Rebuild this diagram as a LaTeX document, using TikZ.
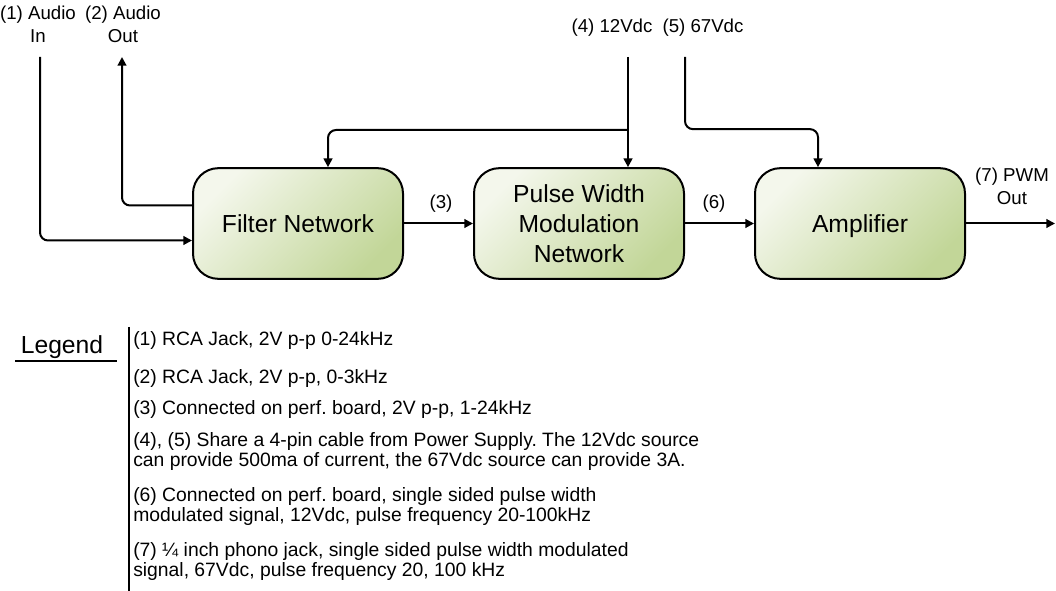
\documentclass[tikz,border=0pt]{standalone}
\usepackage{fontspec}
\setmainfont{Liberation Sans}
\usetikzlibrary{arrows.meta,calc}
\definecolor{boxlight}{RGB}{244,247,236}
\definecolor{boxdark}{RGB}{194,214,152}
\frenchspacing
\tikzset{
  blockbox/.style={draw=black, line width=1.5pt, rounded corners=19pt,
    minimum width=157.5pt, minimum height=83pt, align=center,
    top color=boxlight, bottom color=boxdark, shading angle=45,
    font=\fontsize{18.5}{22}\selectfont},
  conn/.style={line width=1.5pt, -{Triangle[length=6.5pt,width=6.5pt]}},
  wire/.style={line width=1.5pt},
  lbl/.style={align=center, inner sep=0pt, font=\fontsize{14}{17}\selectfont},
  leg/.style={anchor=west, align=left, inner sep=0pt, font=\fontsize{14.5}{15}\selectfont},
}
\begin{document}
\begin{tikzpicture}[x=0.75pt,y=-0.75pt]
\frenchspacing
\useasboundingbox (0,0) rectangle (1056,591);
% blocks
\node[blockbox] (filter) at (298,223.5) {Filter Network};
\node[blockbox, font=\fontsize{18.5}{22.5}\selectfont] (pwm) at (579,223.5) {Pulse Width\\Modulation\\Network};
\node[blockbox, text depth=0pt] (amp) at (860,223.5) {Amplifier};
% top labels
\node[lbl] (lin) at (38,24) {(1) Audio\\In};
\node[lbl] (lout) at (123,24) {(2) Audio\\Out};
\node[lbl] (l12) at (612,28) {(4) 12Vdc};
\node[lbl] (l67) at (703,28) {(5) 67Vdc};
\node[lbl] (l7) at (1012,186) {(7) PWM\\Out};
\node[lbl] (l3) at (441,204) {(3)};
\node[lbl] (l6) at (714,204) {(6)};
% free ends
\coordinate (ain) at (40,57);
\coordinate (aout) at (122,57);
\coordinate (v12) at (628,57);
\coordinate (v67) at (685,57);
\coordinate (j12) at (628,130);
\coordinate (pout) at (1055,223.5);
% connectors
\draw[conn, rounded corners=6pt] (ain) |- ($(filter.west)+(0,17)$);
\draw[conn, rounded corners=6pt] ($(filter.west)+(0,-18)$) -| (aout);
\draw[conn] (v12) -- (v12 |- pwm.north);
\draw[conn, rounded corners=6pt] (j12) -| ($(filter.north)+(30,0)$);
\draw[conn, rounded corners=6pt] (v67) |- ($(amp.north)+(-42,-38)$) -- ($(amp.north)+(-42,0)$);
\draw[conn] (filter.east) -- (pwm.west);
\draw[conn] (pwm.east) -- (amp.west);
\draw[conn] (amp.east) -- (pout);
% legend
\node[inner sep=0pt, font=\fontsize{18.5}{22}\selectfont] (legend) at (62,347) {Legend};
\coordinate (ulL) at (15,361);
\coordinate (ulR) at (117,361);
\draw[wire] (ulL) -- (ulR);
\coordinate (vt) at (129,327);
\coordinate (vb) at (129,592);
\draw[wire] (vt) -- (vb);
\node[leg] (e1) at (133,341) {(1) RCA Jack, 2V p-p 0-24kHz};
\node[leg] (e2) at (133,379) {(2) RCA Jack, 2V p-p, 0-3kHz};
\node[leg] (e3) at (133,410) {(3) Connected on perf. board, 2V p-p, 1-24kHz};
\node[leg] (e4) at (133,451.5) {(4), (5) Share a 4-pin cable from Power Supply. The 12Vdc source\\can provide 500ma of current, the 67Vdc source can provide 3A.};
\node[leg] (e6) at (133,506.5) {(6) Connected on perf. board, single sided pulse width\\modulated signal, 12Vdc, pulse frequency 20-100kHz};
\node[leg] (e7) at (133,561) {(7) \char"00BC{} inch phono jack, single sided pulse width modulated\\signal, 67Vdc, pulse frequency 20, 100 kHz};
\end{tikzpicture}
\end{document}
